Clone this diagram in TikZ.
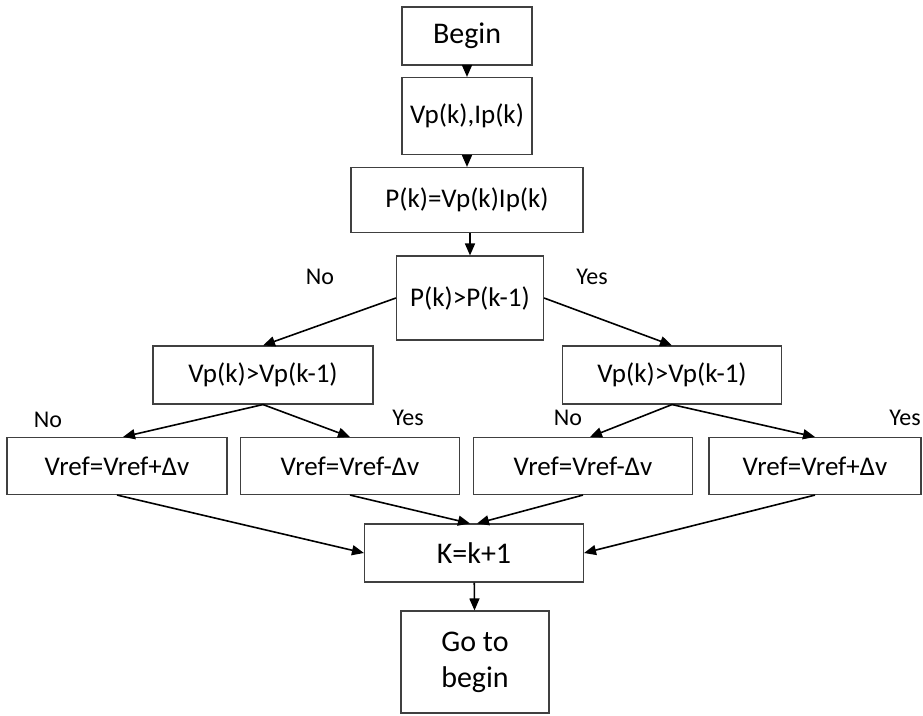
\documentclass[tikz,border=0pt]{standalone}
\usepackage{fontspec}
\setmainfont{Carlito}
\usepackage{tikz}
\usetikzlibrary{arrows.meta}

\begin{document}
\begin{tikzpicture}[x=1pt,y=-1pt,
    box/.style={draw=black!75,line width=1.1pt,inner sep=0pt,align=center,
      font=\fontsize{27}{34}\selectfont},
    bigbox/.style={box,font=\fontsize{30}{36}\selectfont},
    flow/.style={-{Triangle[length=12pt,width=10pt]},line width=1.6pt},
    lbl/.style={font=\fontsize{24}{29}\selectfont}]
  \useasboundingbox (0,0) rectangle (923,715);
  % main column
  \node[bigbox,minimum width=130,minimum height=58] (begin) at (467,36) {Begin};
  \node[box,minimum width=130,minimum height=77] (meas) at (467,116) {Vp(k),Ip(k)};
  \node[box,minimum width=232,minimum height=65] (power) at (467,200) {P(k)=Vp(k)Ip(k)};
  \node[box,minimum width=147,minimum height=84] (cmp) at (470,298) {P(k)>P(k-1)};
  % second decisions
  \node[box,minimum width=220,minimum height=58] (vleft) at (263,375) {Vp(k)>Vp(k-1)};
  \node[box,minimum width=219,minimum height=58] (vright) at (672,375) {Vp(k)>Vp(k-1)};
  % updates
  \node[box,minimum width=220,minimum height=57] (incl) at (117,466) {Vref=Vref+Δv};
  \node[box,minimum width=219,minimum height=57] (decl) at (350,466) {Vref=Vref-Δv};
  \node[box,minimum width=219,minimum height=57] (decr) at (583,466) {Vref=Vref-Δv};
  \node[box,minimum width=212,minimum height=57] (incr) at (815,466) {Vref=Vref+Δv};
  \node[bigbox,minimum width=219,minimum height=58] (knext) at (474,553) {K=k+1};
  \node[bigbox,minimum width=148,minimum height=102] (goback) at (475,662) {Go to\\begin};
  % branch labels
  \node[lbl] (no1) at (320,277) {No};
  \node[lbl] (yes1) at (592,277) {Yes};
  \node[lbl] (no2) at (48,420) {No};
  \node[lbl] (yes2) at (408,418) {Yes};
  \node[lbl] (no3) at (568,418) {No};
  \node[lbl] (yes3) at (905,418) {Yes};
  % arrows
  \draw[flow] (begin) -- (meas);
  \draw[flow] (meas) -- (power);
  \draw[flow] ([xshift=3pt]power.south) -- (cmp);
  \draw[flow] (cmp.west) -- (vleft.north);
  \draw[flow] (cmp.east) -- (vright.north);
  \draw[flow] (vleft.south) -- ([xshift=6pt]incl.north);
  \draw[flow] (vleft.south) -- (decl.north);
  \draw[flow] (vright.south) -- ([xshift=7pt]decr.north);
  \draw[flow] (vright.south) -- (incr.north);
  \draw[flow] (incl.south) -- (knext.west);
  \draw[flow] (decl.south) -- ([xshift=-4pt]knext.north);
  \draw[flow] (decr.south) -- ([xshift=3pt]knext.north);
  \draw[flow] (incr.south) -- (knext.east);
  \draw[flow] (knext) -- (goback);
\end{tikzpicture}
\end{document}
